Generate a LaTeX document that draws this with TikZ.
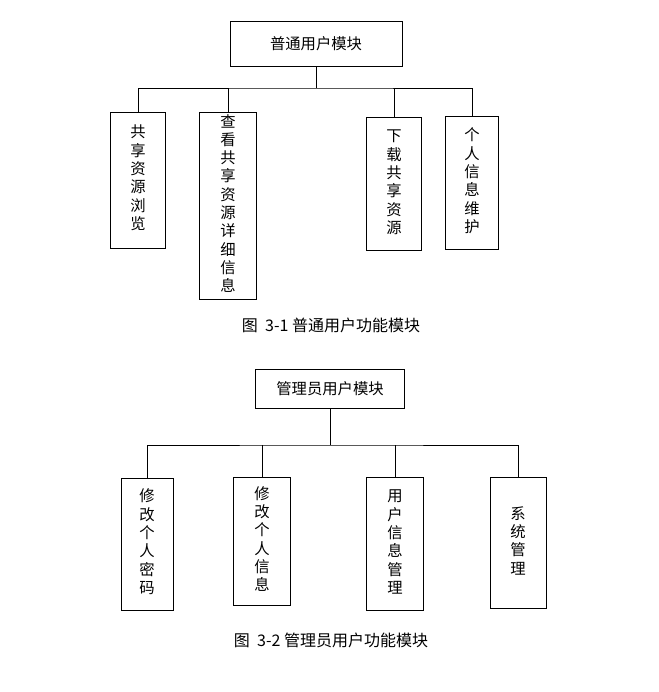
\documentclass[tikz,border=0pt]{standalone}
\usepackage{fontspec}
\setmainfont{Noto Sans CJK SC}
\usetikzlibrary{positioning}
\newcommand{\vtext}[1]{\begin{tabular}{@{}c@{}}#1\end{tabular}}
\begin{document}
\begin{tikzpicture}[x=0.75pt,y=-0.75pt]
                \tikzstyle{box} = [draw, semithick, inner sep=0pt, font=\fontsize{11.5}{13.6}\selectfont];
                \tikzstyle{link} = [semithick];
                \useasboundingbox (0,0) rectangle (659,692);

                \node[box, minimum width=129pt, minimum height=34pt](R1) at (316,44) {普通用户模块};
                \node[box, minimum width=41pt, minimum height=102pt](A1) at (138,180) {\vtext{共\\享\\资\\源\\浏\\览}};
                \node[box, minimum width=43pt, minimum height=140pt, anchor=north](A2) at (228,112) {\vtext{查\\看\\共\\享\\资\\源\\详\\细\\信\\息}};
                \node[box, minimum width=41pt, minimum height=100pt](A3) at (394,184) {\vtext{下\\载\\共\\享\\资\\源}};
                \node[box, minimum width=40pt, minimum height=100pt](A4) at (472,183) {\vtext{个\\人\\信\\息\\维\\护}};
                \coordinate (J1) at (316,88);

                \draw[link] (R1) -- (J1) (A1.north) |- (J1) -| (A4.north)
                    (A2.north) -- (A2.north |- J1) (A3.north) -- (A3.north |- J1);

                \node[font=\fontsize{12}{15}\selectfont](C1) at (331,325) {图\ \ 3-1 普通用户功能模块};

                \node[box, minimum width=112pt, minimum height=29pt](R2) at (330,389) {管理员用户模块};
                \node[box, minimum width=39pt, minimum height=99pt](B1) at (147,544) {\vtext{修\\改\\个\\人\\密\\码}};
                \node[box, minimum width=43pt, minimum height=96pt, anchor=north](B2) at (262,477) {\vtext{修\\改\\个\\人\\信\\息}};
                \node[box, minimum width=43pt, minimum height=100pt](B3) at (395,544) {\vtext{用\\户\\信\\息\\管\\理}};
                \node[box, minimum width=42pt, minimum height=98pt](B4) at (518,543) {\vtext{系\\统\\管\\理}};
                \coordinate (J2) at (330,445);

                \draw[link] (R2) -- (J2) (B1.north) |- (J2) -| (B4.north)
                    (B2.north) -- (B2.north |- J2) (B3.north) -- (B3.north |- J2);

                \node[font=\fontsize{12}{15}\selectfont](C2) at (331,640) {图\ \ 3-2 管理员用户功能模块};
\end{tikzpicture}
\end{document}
